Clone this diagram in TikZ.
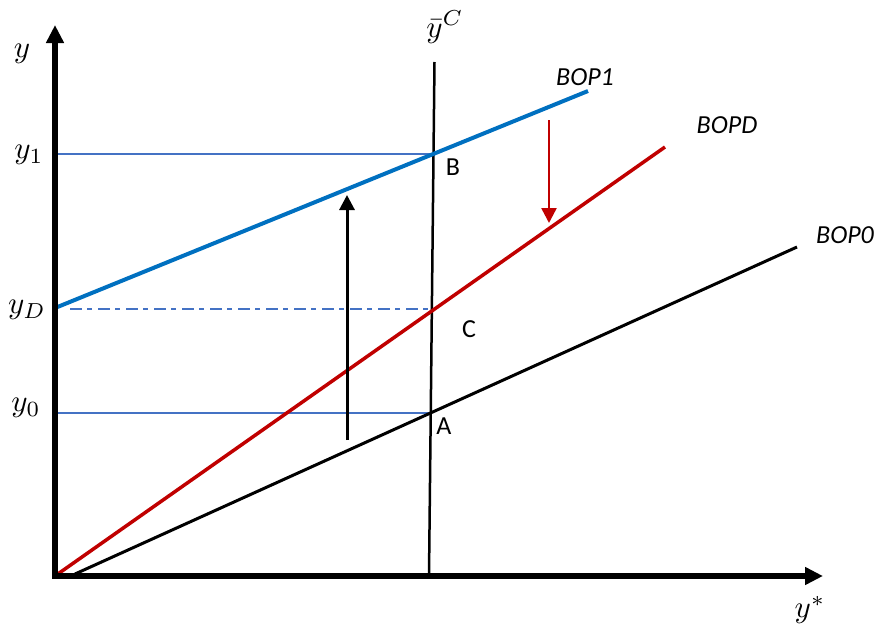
\documentclass[tikz,border=0pt]{standalone}
\usepackage{fontspec}
\newfontfamily\labfont{Carlito}
\usetikzlibrary{arrows.meta}
\definecolor{bopblue}{HTML}{0070C0}
\definecolor{bopred}{HTML}{C00000}
\definecolor{thinblue}{HTML}{4472C4}
\begin{document}
\begin{tikzpicture}[x=1pt,y=-1pt,
  axisline/.style={line width=6pt, line join=miter},
  mathlab/.style={scale=3.1, inner sep=0pt},
  curvelab/.style={font=\labfont\itshape\fontsize{26}{30}\selectfont, inner sep=0pt},
  ptlab/.style={font=\labfont\fontsize{26}{30}\selectfont, inner sep=0pt},
  guide/.style={thinblue, line width=1.3pt},
  shiftarrow/.style={line width=3pt, -{Triangle[width=15pt,length=15pt]}}]
\useasboundingbox (0,0) rectangle (879,624);
% coordinates
\coordinate (ytip) at (55,25);
\coordinate (O) at (55,576);
\coordinate (xtip) at (823,576);
\coordinate (vtop) at (434.5,62);
\coordinate (vbot) at (429,576);
\coordinate (B) at (433,154);
\coordinate (C) at (431,309);
\coordinate (A) at (431,413);
\coordinate (y1) at (55,154);
\coordinate (yD) at (55,308);
\coordinate (yDs) at (70,309);
\coordinate (y0) at (55,413);
\coordinate (bop1end) at (588,91);
\coordinate (bopdend) at (665,147);
\coordinate (bop0start) at (75,574);
\coordinate (bop0end) at (797,247);
\coordinate (uparrs) at (347,440);
\coordinate (uparre) at (347,195);
\coordinate (dnarrs) at (549,120);
\coordinate (dnarre) at (549,223);
% guide lines
\draw[guide] (y1) -- (B);
\draw[guide] (y0) -- (A);
\draw[thinblue, line width=2.5pt, dash pattern=on 12pt off 5pt on 5pt off 6pt] (yDs) -- (C);
% curves
\draw[line width=2.5pt] (vtop) -- (vbot);
\draw[line width=3pt] (bop0start) -- (bop0end);
\draw[bopred, line width=3.5pt] (O) -- (bopdend);
\draw[bopblue, line width=4pt] (yD) -- (bop1end);
% shift arrows
\draw[shiftarrow] (uparrs) -- (uparre);
\draw[shiftarrow, bopred, line width=2.5pt] (dnarrs) -- (dnarre);
% axes
\draw[axisline, {Triangle[width=17pt,length=18pt]}-{Triangle[width=17pt,length=18pt]}] (ytip) -- (O) -- (xtip);
% labels
\node[mathlab] (ly) at (22,54) {$y$};
\node[mathlab] (lys) at (810,610) {$y^{*}$};
\node[mathlab] (lyc) at (445,27) {$\bar{y}^{C}$};
\node[mathlab] (ly1) at (29,155) {$y_1$};
\node[mathlab] (lyD) at (27,310) {$y_D$};
\node[mathlab] (ly0) at (26,408) {$y_0$};
\node[curvelab] (lbop1) at (585,77) {BOP1};
\node[curvelab] (lbopd) at (727,125) {BOPD};
\node[curvelab] (lbop0) at (845,235) {BOP0};
\node[ptlab] (lB) at (453,167) {B};
\node[ptlab] (lC) at (469,329) {C};
\node[ptlab] (lA) at (444,426) {A};
\end{tikzpicture}
\end{document}
